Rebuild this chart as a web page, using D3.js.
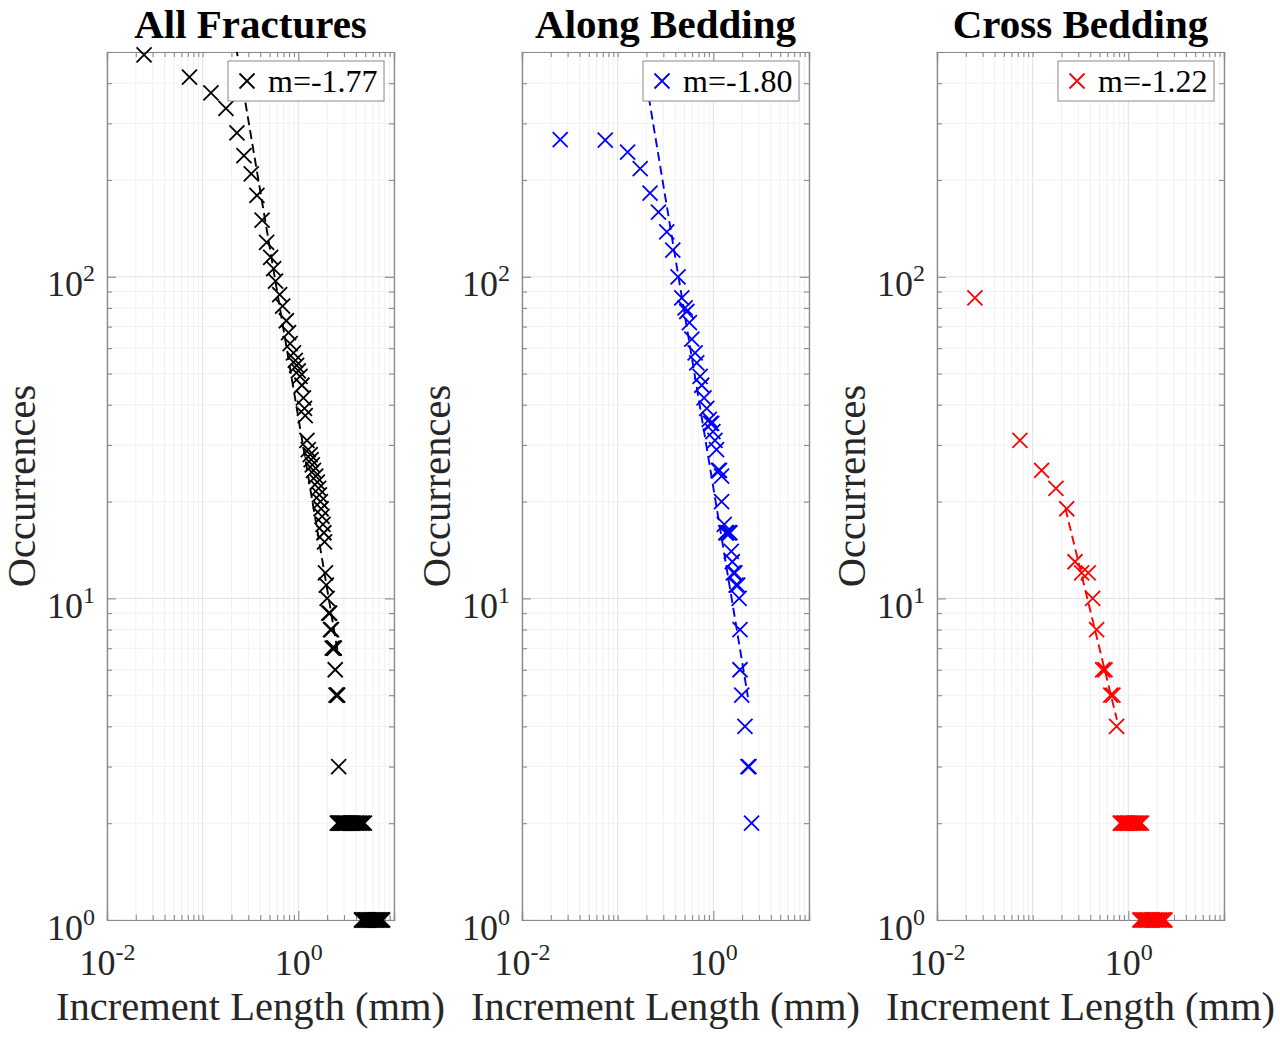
<!DOCTYPE html>
<html>
<head>
<meta charset="utf-8">
<script src="https://cdn.jsdelivr.net/npm/d3@7"></script>
<style>
  html, body { margin: 0; padding: 0; background: #ffffff; }
  svg { display: block; font-family: "Liberation Serif", "Times New Roman", serif; }
</style>
</head>
<body>
<svg id="chart" width="1280" height="1037"></svg>
<script>
// ---- data -------------------------------------------------------------
const panelTitles = ["All Fractures", "Along Bedding", "Cross Bedding"];
const seriesColors = ["#000000", "#0000ff", "#ff0000"];

// All fractures: increment length (mm) and occurrences
const allLength = [0.0244, 0.0728, 0.122, 0.175, 0.228, 0.270, 0.322, 0.369, 0.418, 0.466,
  0.514, 0.552, 0.578, 0.638, 0.685, 0.749, 0.790, 0.820, 0.890, 0.930,
  0.960, 1.00, 1.04, 1.09, 1.13, 1.16, 1.18, 1.23, 1.27, 1.33,
  1.36, 1.40, 1.44, 1.52, 1.58, 1.63, 1.66, 1.70, 1.73, 1.77,
  1.81, 1.85, 1.88, 1.92, 1.96, 2.00, 2.08, 2.13, 2.17, 2.22,
  2.26, 2.34, 2.38, 2.43, 2.48, 2.54, 2.58, 2.64,
  2.56, 2.62, 2.68, 2.75, 2.82, 2.90, 2.97, 3.05, 3.12, 3.20, 3.30, 3.40,
  3.50, 3.60, 3.70, 3.82, 3.95, 4.08, 4.22, 4.38, 4.55, 4.72, 4.90,
  4.57, 4.70, 4.85, 5.00, 5.15, 5.30, 5.45, 5.60, 5.75, 5.90, 6.05, 6.20,
  6.40, 6.60, 6.80, 7.00, 7.20, 7.40, 7.60];
const allCount = [490, 418, 373, 334, 280, 238, 209, 179, 150, 128,
  115, 106, 97, 88, 81, 73, 67, 62, 58, 55,
  53, 51, 49, 46, 42, 39, 37, 31, 29, 28,
  27, 26, 25, 24, 23, 22, 21, 20, 19, 18,
  17, 16, 15, 12, 11, 10, 9, 9, 8, 8,
  7, 7, 7, 6, 5, 5, 5, 3,
  2, 2, 2, 2, 2, 2, 2, 2, 2, 2, 2, 2,
  2, 2, 2, 2, 2, 2, 2, 2, 2, 2, 2,
  1, 1, 1, 1, 1, 1, 1, 1, 1, 1, 1, 1,
  1, 1, 1, 1, 1, 1, 1];

// Fractures along bedding
const alongLength = [0.0251, 0.0741, 0.127, 0.172, 0.218, 0.267, 0.326, 0.377, 0.428, 0.468,
  0.507, 0.528, 0.562, 0.596, 0.645, 0.671, 0.727, 0.756, 0.800, 0.853,
  0.908, 0.935, 0.962, 0.990, 1.04, 1.08, 1.127, 1.16, 1.22, 1.22,
  1.30, 1.35, 1.38, 1.45, 1.49, 1.54, 1.58, 1.62, 1.68, 1.73,
  1.80, 1.86, 1.90, 1.90, 1.98, 2.14, 2.30, 2.36, 2.51];
const alongCount = [267, 266, 244, 217, 182, 159, 138, 121, 100, 86,
  80, 78, 72, 64, 58, 54, 49, 46, 42, 39,
  36, 35, 35, 33, 31, 29, 25, 25, 24, 20,
  17, 16, 16, 16, 16, 14, 13, 12, 12, 11,
  11, 10, 8, 6, 5, 4, 3, 3, 2];

// Fractures crossing bedding
const crossLength = [0.0249, 0.0736, 0.124, 0.175, 0.227, 0.277, 0.325, 0.381, 0.424, 0.466,
  0.540, 0.570, 0.655, 0.690, 0.754,
  0.824, 0.850, 0.880, 0.910, 0.940, 0.970, 1.00, 1.03, 1.06, 1.10, 1.14, 1.18, 1.23, 1.28, 1.32, 1.37,
  1.32, 1.37, 1.42, 1.48, 1.54, 1.60, 1.66, 1.73, 1.80, 1.88, 1.96, 2.05, 2.14, 2.24, 2.33, 2.41];
const crossCount = [86, 31, 25, 22, 19, 13, 12, 12, 10, 8,
  6, 6, 5, 5, 4,
  2, 2, 2, 2, 2, 2, 2, 2, 2, 2, 2, 2, 2, 2, 2, 2,
  1, 1, 1, 1, 1, 1, 1, 1, 1, 1, 1, 1, 1, 1, 1, 1];

// Power-law fits N = C * L^m over the fitted length range
const fitSlope = [-1.77, -1.80, -1.22];
const fitCoef = [36.5, 22.1, 3.0];
const fitFrom = [0.20, 0.20, 0.22];
const fitTo = [2.60, 2.30, 0.76];

const xTickLabels = [{ v: 0.01, base: "10", exp: "-2" }, { v: 1, base: "10", exp: "0" }];
const yTickLabels = [{ v: 1, base: "10", exp: "0" }, { v: 10, base: "10", exp: "1" }, { v: 100, base: "10", exp: "2" }];

const xLabel = "Increment Length (mm)";
const yLabel = "Occurrences";

// ---- layout -------------------------------------------------------------
const svg = d3.select("#chart");
const plotW = 287, plotH = 868, plotTop = 52, firstLeft = 107, step = 415;
const xDomain = [0.01, 10], yDomain = [1, 500];
const boxColor = "#8a8a8a";
const textColor = "#262626";

const series = [
  { len: allLength, cnt: allCount },
  { len: alongLength, cnt: alongCount },
  { len: crossLength, cnt: crossCount }
];

// log-grid values
function logValues(lo, hi) {
  const out = [];
  for (let e = Math.floor(Math.log10(lo)); e <= Math.ceil(Math.log10(hi)); e++) {
    for (let k = 1; k <= 9; k++) {
      const v = k * Math.pow(10, e);
      if (v >= lo * 0.9999 && v <= hi * 1.0001) out.push(+v.toPrecision(6));
    }
  }
  return out;
}
const xAll = logValues(xDomain[0], xDomain[1]);
const yAll = logValues(yDomain[0], yDomain[1]);
const xMajor = xTickLabels.map(d => d.v);
const yMajor = yTickLabels.map(d => d.v);
const xMinor = xAll.filter(v => !xMajor.includes(v));
const yMinor = yAll.filter(v => !yMajor.includes(v));

const markerPath = "M-7.5,-7.5L7.5,7.5M-7.5,7.5L7.5,-7.5";

// replace plain tick text with "10" and a raised exponent
function superscriptLabels(sel, labels) {
  sel.selectAll(".tick text").each(function (d) {
    const lab = labels.find(l => Math.abs(l.v - d) < 1e-9);
    const t = d3.select(this).text(null);
    if (!lab) return;
    t.append("tspan").text(lab.base);
    t.append("tspan").attr("dy", -15).attr("font-size", "24px").text(lab.exp);
  });
}

series.forEach((s, i) => {
  const left = firstLeft + i * step;
  const g = svg.append("g").attr("transform", `translate(${left},${plotTop})`);
  const x = d3.scaleLog().domain(xDomain).range([0, plotW]);
  const y = d3.scaleLog().domain(yDomain).range([plotH, 0]);

  // clip for fitted line
  const clipId = "clip" + i;
  g.append("clipPath").attr("id", clipId)
    .append("rect").attr("width", plotW).attr("height", plotH);

  // grid
  const grid = g.append("g");
  grid.selectAll("line.gx").data(xAll).join("line")
    .attr("x1", d => x(d)).attr("x2", d => x(d))
    .attr("y1", 0).attr("y2", plotH)
    .attr("stroke", d => xMajor.includes(d) || d === 0.1 ? "#e2e2e2" : "#f1f1f1")
    .attr("stroke-width", 1);
  grid.selectAll("line.gy").data(yAll).join("line")
    .attr("y1", d => y(d)).attr("y2", d => y(d))
    .attr("x1", 0).attr("x2", plotW)
    .attr("stroke", d => yMajor.includes(d) ? "#e2e2e2" : "#f1f1f1")
    .attr("stroke-width", 1);

  // axes: major ticks with labels, minor ticks, inward on all four sides
  const styleAxis = a => {
    a.select(".domain").attr("stroke", boxColor).attr("stroke-width", 1.2);
    a.selectAll(".tick line").attr("stroke", boxColor).attr("stroke-width", 1.1);
  };
  const ax = g.append("g").attr("transform", `translate(0,${plotH})`)
    .call(d3.axisBottom(x).tickValues(xMajor).tickSize(-9).tickPadding(29).tickFormat(d => String(d)));
  ax.call(styleAxis);
  ax.selectAll("text").attr("font-size", "36px").attr("fill", textColor).attr("font-family", "Liberation Serif");
  superscriptLabels(ax, xTickLabels);
  g.append("g").attr("transform", `translate(0,${plotH})`)
    .call(d3.axisBottom(x).tickValues(xMinor).tickSize(-5).tickFormat("")).call(styleAxis);
  g.append("g").call(d3.axisTop(x).tickValues(xMajor).tickSize(-9).tickFormat("")).call(styleAxis);
  g.append("g").call(d3.axisTop(x).tickValues(xMinor).tickSize(-5).tickFormat("")).call(styleAxis);

  const ay = g.append("g")
    .call(d3.axisLeft(y).tickValues(yMajor).tickSize(-9).tickPadding(12).tickFormat(d => String(d)));
  ay.call(styleAxis);
  ay.selectAll("text").attr("font-size", "36px").attr("fill", textColor).attr("dy", "0.53em").attr("font-family", "Liberation Serif");
  superscriptLabels(ay, yTickLabels);
  g.append("g").call(d3.axisLeft(y).tickValues(yMinor).tickSize(-5).tickFormat("")).call(styleAxis);
  g.append("g").attr("transform", `translate(${plotW},0)`)
    .call(d3.axisRight(y).tickValues(yMajor).tickSize(-9).tickFormat("")).call(styleAxis);
  g.append("g").attr("transform", `translate(${plotW},0)`)
    .call(d3.axisRight(y).tickValues(yMinor).tickSize(-5).tickFormat("")).call(styleAxis);

  // fitted power law (dashed)
  const m = fitSlope[i], c = fitCoef[i];
  const fitPts = [fitFrom[i], fitTo[i]].map(L => [L, c * Math.pow(L, m)]);
  g.append("path")
    .attr("clip-path", `url(#${clipId})`)
    .attr("d", d3.line().x(d => x(d[0])).y(d => y(d[1]))(fitPts))
    .attr("fill", "none").attr("stroke", seriesColors[i])
    .attr("stroke-width", 1.9).attr("stroke-dasharray", "9,5");

  // markers
  const pts = s.len.map((L, k) => [L, s.cnt[k]]);
  g.append("g").selectAll("path").data(pts).join("path")
    .attr("transform", d => `translate(${x(d[0])},${y(d[1])})`)
    .attr("d", markerPath)
    .attr("fill", "none").attr("stroke", seriesColors[i]).attr("stroke-width", 1.8);

  // legend
  const lg = g.append("g").attr("transform", `translate(${plotW - 166},9)`);
  lg.append("rect").attr("width", 156).attr("height", 40)
    .attr("fill", "#ffffff").attr("stroke", boxColor).attr("stroke-width", 1);
  lg.append("path").attr("transform", "translate(19,20)").attr("d", markerPath)
    .attr("fill", "none").attr("stroke", seriesColors[i]).attr("stroke-width", 1.8);
  lg.append("text").attr("x", 40).attr("y", 31)
    .attr("font-size", "32px").attr("fill", "#000")
    .text("m=" + m.toFixed(2));

  // titles and axis labels
  g.append("text").attr("x", plotW / 2).attr("y", -14)
    .attr("text-anchor", "middle").attr("font-size", "41px").attr("font-weight", "bold")
    .attr("fill", "#000").text(panelTitles[i]);
  g.append("text").attr("x", plotW / 2).attr("y", plotH + 100)
    .attr("text-anchor", "middle").attr("font-size", "40.5px").attr("fill", textColor)
    .text(xLabel);
  g.append("text").attr("transform", `translate(-72,${plotH / 2}) rotate(-90)`)
    .attr("text-anchor", "middle").attr("font-size", "40.5px").attr("fill", textColor)
    .text(yLabel);
});
</script>
</body>
</html>
